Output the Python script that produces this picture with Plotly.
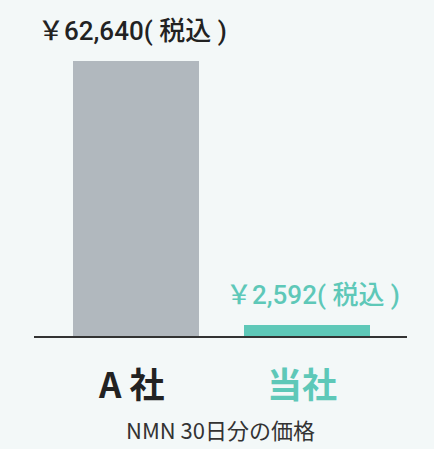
import plotly.graph_objects as go

categories = ["A 社", "当社"]
prices = [62640, 2592]
price_labels = ["￥62,640( 税込 )", "￥2,592( 税込 )"]
title_text = "NMN 30日分の価格"

bar_colors = ["#b1b8be", "#5ec8b8"]
label_colors = ["#222222", "#5ec8b8"]
FONT = "Roboto, Noto Sans CJK JP"
CJK = "Noto Sans CJK JP"

fig = go.Figure()
fig.add_trace(go.Bar(
    x=[0, 1], y=prices, width=0.737,
    marker=dict(color=bar_colors, line=dict(width=0)),
    hoverinfo="skip",
))

annotations = []
val_shift = [-3, 6]
for i, (v, lab) in enumerate(zip(prices, price_labels)):
    annotations.append(dict(
        x=i, y=v, xref="x", yref="y", text=lab, showarrow=False,
        yanchor="middle", yshift=30, xshift=val_shift[i],
        font=dict(family=FONT, size=26, color=label_colors[i], weight=500),
    ))
    annotations.append(dict(
        x=i, y=0, xref="x", yref="paper", text="<b>" + categories[i] + "</b>",
        showarrow=False, yanchor="middle", yshift=-46, xshift=-5,
        font=dict(family=CJK, size=35, color=label_colors[i]),
    ))
annotations.append(dict(
    x=0.5, y=0, xref="paper", yref="paper", text=title_text, showarrow=False,
    yanchor="middle", yshift=-93,
    font=dict(family=CJK, size=22, color="#333333"),
))

fig.update_layout(
    width=434, height=449,
    margin=dict(l=34, r=27, t=40, b=113),
    paper_bgcolor="#f3f8f8", plot_bgcolor="#f3f8f8",
    showlegend=False,
    annotations=annotations,
    xaxis=dict(range=[-0.596, 1.585], showgrid=False, zeroline=False,
               showticklabels=False, ticks="", showline=True,
               linecolor="#333333", linewidth=2, fixedrange=True),
    yaxis=dict(range=[0, 67423], visible=False, fixedrange=True),
    bargap=0,
)

fig.write_html("out.html", config={"displayModeBar": False},
               post_script="document.body.style.margin='0';document.body.style.background='#ffffff';")
